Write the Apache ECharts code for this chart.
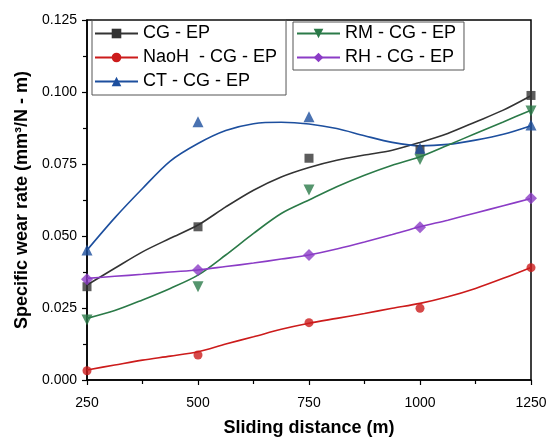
<!DOCTYPE html>
<html>
<head>
<meta charset="utf-8">
<script src="https://cdn.jsdelivr.net/npm/echarts@6/dist/echarts.min.js"></script>
<style>
    html, body { margin: 0; padding: 0; background: #fff; }
    #wear { width: 549px; height: 440px; }
</style>
</head>
<body>
<div id="wear"></div>
<script>
// measured points (sliding distance in m)
var distances = [250, 500, 750, 1000, 1250];
var cgEp   = [0.0324, 0.0532, 0.0770, 0.0800, 0.0988];
var naohEp = [0.0032, 0.0087, 0.0199, 0.0249, 0.0390];
var ctEp   = [0.0451, 0.0897, 0.0914, 0.0805, 0.0885];
var rmEp   = [0.0208, 0.0324, 0.0660, 0.0766, 0.0934];
var rhEp   = [0.0350, 0.0382, 0.0434, 0.0530, 0.0631];

// fitted curves, every 62.5 m
var curveX  = [250, 312.5, 375, 437.5, 500, 562.5, 625, 687.5, 750,
               812.5, 875, 937.5, 1000, 1062.5, 1125, 1187.5, 1250];
var cgFit   = [0.0330, 0.0388, 0.0445, 0.0492, 0.0538, 0.0601, 0.0659, 0.0705, 0.0738,
               0.0763, 0.0781, 0.0798, 0.0825, 0.0856, 0.0896, 0.0937, 0.0987];
var naohFit = [0.0035, 0.0052, 0.0069, 0.0083, 0.0098, 0.0125, 0.0150, 0.0176, 0.0197,
               0.0214, 0.0231, 0.0249, 0.0266, 0.0289, 0.0318, 0.0353, 0.0391];
var ctFit   = [0.0451, 0.0563, 0.0665, 0.0760, 0.0821, 0.0866, 0.0890, 0.0895, 0.0889,
               0.0873, 0.0848, 0.0825, 0.0813, 0.0818, 0.0833, 0.0853, 0.0883];
var rmFit   = [0.0214, 0.0241, 0.0278, 0.0318, 0.0364, 0.0434, 0.0509, 0.0578, 0.0625,
               0.0671, 0.0711, 0.0746, 0.0775, 0.0815, 0.0856, 0.0896, 0.0937];
var rhFit   = [0.0353, 0.0360, 0.0367, 0.0375, 0.0382, 0.0394, 0.0406, 0.0420, 0.0434,
               0.0455, 0.0479, 0.0505, 0.0532, 0.0555, 0.0580, 0.0605, 0.0630];

var names   = ['CG - EP', 'NaoH  - CG - EP', 'CT - CG - EP', 'RM - CG - EP', 'RH - CG - EP'];
var colors  = ['#333333', '#cc1b1b', '#1d4f9e', '#2b7a48', '#8b3cc6'];
var symbols = ['rect', 'circle', 'triangle', 'triangle', 'diamond'];
var rotates = [0, 0, 0, 180, 0];
var sizes   = [9, 9, 11, 11, 12];
var points  = [cgEp, naohEp, ctEp, rmEp, rhEp];
var fits    = [cgFit, naohFit, ctFit, rmFit, rhFit];

function pairs(xs, ys) {
    var out = [];
    for (var i = 0; i < xs.length; i++) out.push([xs[i], ys[i]]);
    return out;
}

var font = 'Liberation Sans, Arial, sans-serif';
var series = [];
for (var k = 0; k < names.length; k++) {
    series.push({
        name: names[k],
        type: 'line',
        smooth: 0.3,
        data: pairs(curveX, fits[k]),
        showSymbol: false,
        symbol: symbols[k],
        symbolRotate: rotates[k],
        symbolSize: sizes[k],
        itemStyle: { color: colors[k] },
        lineStyle: { color: colors[k], width: 1.6 },
        animation: false
    });
    series.push({
        name: names[k],
        type: 'scatter',
        data: pairs(distances, points[k]),
        symbol: symbols[k],
        symbolRotate: rotates[k],
        symbolSize: sizes[k],
        itemStyle: { color: colors[k] },
        z: 3,
        animation: false
    });
}

var legendText = { fontSize: 18, color: '#000', lineHeight: 19, fontFamily: font };
var chart = echarts.init(document.getElementById('wear'));
var option = {
    backgroundColor: '#ffffff',
    textStyle: { fontFamily: font },
    grid: {
        left: 87, right: 18, top: 20, bottom: 60,
        outerBoundsMode: 'none',
        show: true, borderColor: '#000', borderWidth: 1.5
    },
    legend: [
        {
            data: names.slice(0, 3),
            orient: 'vertical',
            left: 92, top: 20,
            padding: [4, 9, 4, 2],
            itemGap: 5,
            itemWidth: 43, itemHeight: 12,
            borderColor: '#555', borderWidth: 1,
            textStyle: legendText
        },
        {
            data: names.slice(3),
            orient: 'vertical',
            left: 293, top: 22,
            padding: [2, 8, 3, 3],
            itemGap: 5,
            itemWidth: 43, itemHeight: 12,
            borderColor: '#555', borderWidth: 1,
            textStyle: legendText
        }
    ],
    xAxis: {
        type: 'value',
        min: 250, max: 1250, interval: 250,
        name: 'Sliding distance (m)',
        nameLocation: 'middle',
        nameGap: 39,
        nameTextStyle: { fontSize: 18, fontWeight: 'bold', color: '#000', fontFamily: font },
        axisLine: { lineStyle: { color: '#000', width: 1.5 } },
        axisTick: { length: 5, lineStyle: { color: '#000', width: 1.2 } },
        minorTick: { show: true, splitNumber: 2, length: 4, lineStyle: { color: '#000', width: 1.2 } },
        splitLine: { show: false },
        axisLabel: {
            fontSize: 14, color: '#000', margin: 16, fontFamily: font,
            formatter: function (v) { return String(v); }
        }
    },
    yAxis: {
        type: 'value',
        min: 0, max: 0.125, interval: 0.025,
        name: 'Specific wear rate (mm\u00b3/N - m)',
        nameLocation: 'middle',
        nameGap: 56,
        nameTextStyle: { fontSize: 18, fontWeight: 'bold', color: '#000', fontFamily: font },
        axisLine: { lineStyle: { color: '#000', width: 1.5 } },
        axisTick: { length: 5, lineStyle: { color: '#000', width: 1.2 } },
        minorTick: { show: true, splitNumber: 2, length: 4, lineStyle: { color: '#000', width: 1.2 } },
        splitLine: { show: false },
        axisLabel: {
            fontSize: 14, color: '#000', margin: 10, fontFamily: font,
            formatter: function (v) { return v.toFixed(3); }
        }
    },
    series: series
};
chart.setOption(option, true);
</script>
</body>
</html>
